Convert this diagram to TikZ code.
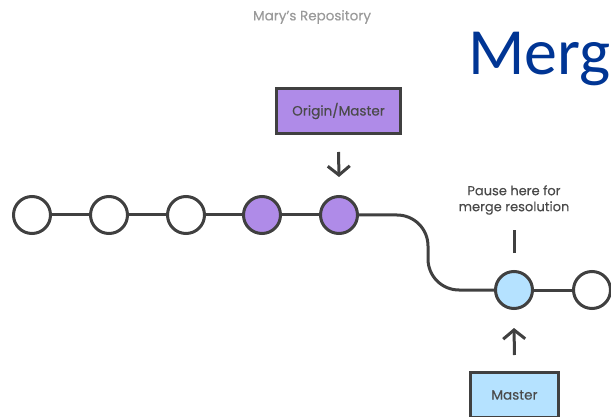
\documentclass[tikz,border=0pt]{standalone}
\usepackage{fontspec}
\setmainfont{Poppins}[FakeBold=0.35]
\newfontfamily\titlefont{Carlito}
\usetikzlibrary{arrows.meta}
\definecolor{lineg}{HTML}{404040}
\definecolor{purp}{HTML}{AF8BE8}
\definecolor{lblue}{HTML}{B5E2FF}
\definecolor{txtg}{HTML}{4A4A4A}
\definecolor{lightg}{HTML}{9A9A9A}
\definecolor{titleblue}{HTML}{003594}
\tikzset{
  commit/.style={circle, draw=lineg, line width=3pt, fill=white, minimum size=37pt, inner sep=0pt},
  pcommit/.style={commit, fill=purp},
  bcommit/.style={commit, fill=lblue},
  link/.style={draw=lineg, line width=3pt},
  refbox/.style={draw=lineg, line width=3pt, inner sep=0pt, font=\fontsize{13.5}{16}\selectfont, text=txtg},
  arr/.style={link, -{Straight Barb[length=9pt,width=22pt,line width=3pt]}},
  lbl/.style={font=\fontsize{13}{16}\selectfont, text=txtg, align=center},
}
\begin{document}
\begin{tikzpicture}[x=1pt,y=-1pt]
\clip (0,0) rectangle (611,417);
\useasboundingbox (0,0) rectangle (611,417);
\node[anchor=center, font=\fontsize{13.5}{16}\selectfont, text=lightg] (title) at (312,17) {Mary’s Repository};
\node[anchor=base west, font=\titlefont\fontsize{66}{70}\selectfont, text=titleblue, inner sep=0pt] (merge) at (468,75) {Merge};
\node[commit] (c1) at (32,215) {};
\node[commit] (c2) at (109,215) {};
\node[commit] (c3) at (186,215) {};
\node[pcommit] (c4) at (262,215) {};
\node[pcommit] (c5) at (339,215) {};
\node[bcommit] (m1) at (514,290) {};
\node[commit] (m2) at (592,290) {};
\draw[link] (c1) -- (c2);
\draw[link] (c2) -- (c3);
\draw[link] (c3) -- (c4);
\draw[link] (c4) -- (c5);
\draw[link] (m1) -- (m2);
\coordinate (bendtop) at (428,215);
\coordinate (bendbot) at (428,290);
\draw[link, rounded corners=31pt] (c5.east) -- (bendtop) -- (bendbot) -- (m1.west);
\node[refbox, fill=purp, minimum width=124pt, minimum height=45pt] (om) at (338.5,111) {Origin/Master};
\node[refbox, fill=lblue, minimum width=88pt, minimum height=45pt] (ms) at (514.5,395) {Master};
\draw[arr] ([yshift=-17pt]om.south) -- ([yshift=18pt]c5.north);
\draw[arr] ([yshift=16pt]ms.north) -- ([yshift=-18pt]m1.south);
\node[lbl] (pause) at (514,200) {Pause here for\\merge resolution};
\draw[link] ([yshift=17pt]m1.north) -- ([yshift=40pt]m1.north);
\end{tikzpicture}
\end{document}
